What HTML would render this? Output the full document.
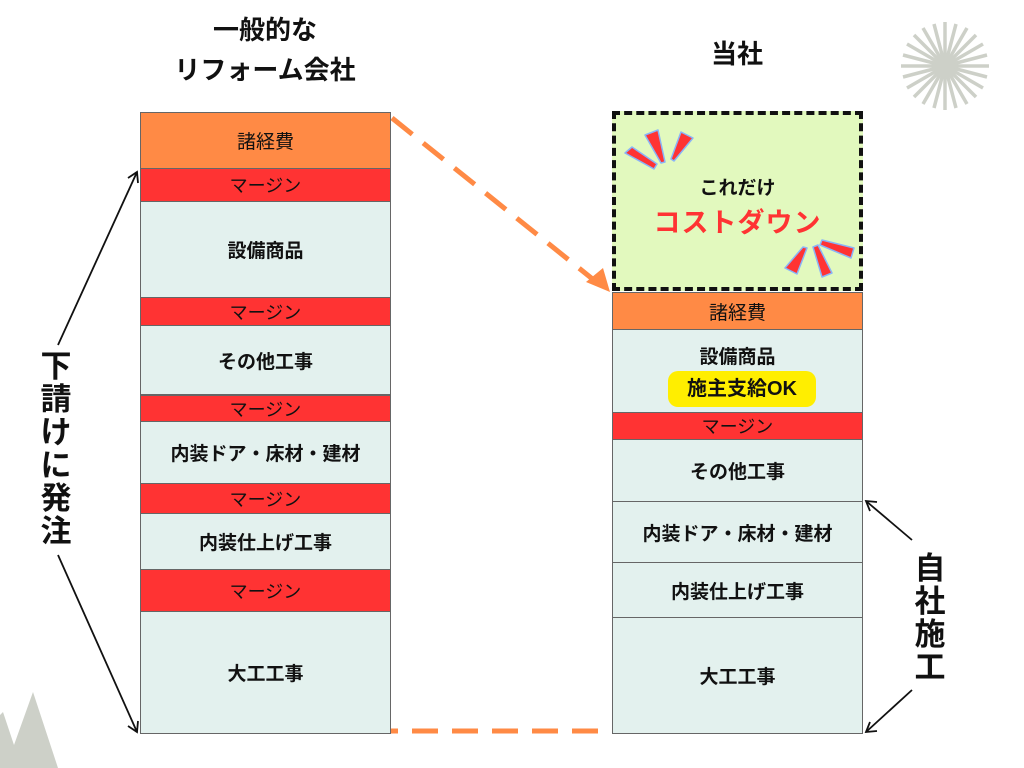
<!DOCTYPE html>
<html><head><meta charset="utf-8"><style>
body{margin:0;width:1024px;height:768px;background:#fff;position:relative;overflow:hidden;font-family:"Liberation Sans","Noto Sans CJK JP",sans-serif;}
.b{position:absolute;box-sizing:border-box;border:1.5px solid #666;display:flex;align-items:center;justify-content:center;color:#111;font-size:19px;}
.o{background:#FF8A45;}
.r{background:#FF3333;font-size:18px;}
.g{background:#E3F1EE;font-weight:bold;}
.t{position:absolute;font-weight:bold;color:#111;text-align:center;}
</style></head><body>
<svg width="1024" height="768" style="position:absolute;left:0;top:0">
<g transform="translate(945,66)" stroke="#CDD0C8" stroke-width="3.5">
<line x1="0" y1="-44" x2="0" y2="44"/><line x1="-44" y1="0" x2="44" y2="0"/>
<line x1="-11" y1="-42" x2="11" y2="42"/><line x1="11" y1="-42" x2="-11" y2="42"/>
<line x1="-22" y1="-38" x2="22" y2="38"/><line x1="22" y1="-38" x2="-22" y2="38"/>
<line x1="-31" y1="-31" x2="31" y2="31"/><line x1="31" y1="-31" x2="-31" y2="31"/>
<line x1="-38" y1="-22" x2="38" y2="22"/><line x1="38" y1="-22" x2="-38" y2="22"/>
<line x1="-42" y1="-11" x2="42" y2="11"/><line x1="42" y1="-11" x2="-42" y2="11"/>
</g>
<circle cx="945" cy="66" r="10" fill="#CDD0C8"/>
<polygon points="0,768 0,715 3,712 14,745 33,692 58,768" fill="#CDD0C8"/>
<line x1="392" y1="118" x2="600" y2="285" stroke="#FF8A45" stroke-width="5" stroke-dasharray="26,14"/>
<polygon points="586,282 610,292 603,268" fill="#FF8A45"/>
<line x1="372" y1="731" x2="610" y2="731" stroke="#FF8A45" stroke-width="5" stroke-dasharray="26,14"/>
<g stroke="#111" stroke-width="1.8" fill="none">
<line x1="58" y1="345" x2="137" y2="172"/><polyline points="128,178 137,172 138,183"/>
<line x1="58" y1="555" x2="137" y2="732"/><polyline points="128,726 137,732 138,721"/>
<line x1="912" y1="540" x2="866" y2="501"/><polyline points="870,511 866,501 877,502"/>
<line x1="912" y1="690" x2="866" y2="732"/><polyline points="870,722 866,732 877,731"/>
</g>
</svg>
<div class="t" style="left:140px;top:10px;width:250px;font-size:26px;line-height:40px">一般的な<br>リフォーム会社</div>
<div class="t" style="left:612px;top:34px;width:250px;font-size:26px">当社</div>
<div class="t" style="left:36px;top:350px;width:40px;font-size:31px;line-height:33px">下<br>請<br>け<br>に<br>発<br>注</div>
<div class="t" style="left:908px;top:552px;width:44px;font-size:31px;line-height:33px">自<br>社<br>施<br>工</div>

<div class="b o" style="left:140px;top:112px;width:251px;height:57px">諸経費</div>
<div class="b r" style="left:140px;top:168px;width:251px;height:34px">マージン</div>
<div class="b g" style="left:140px;top:201px;width:251px;height:97px">設備商品</div>
<div class="b r" style="left:140px;top:297px;width:251px;height:29px">マージン</div>
<div class="b g" style="left:140px;top:325px;width:251px;height:70px">その他工事</div>
<div class="b r" style="left:140px;top:395px;width:251px;height:27px">マージン</div>
<div class="b g" style="left:140px;top:421px;width:251px;height:63px">内装ドア・床材・建材</div>
<div class="b r" style="left:140px;top:483px;width:251px;height:31px">マージン</div>
<div class="b g" style="left:140px;top:513px;width:251px;height:57px">内装仕上げ工事</div>
<div class="b r" style="left:140px;top:569px;width:251px;height:43px">マージン</div>
<div class="b g" style="left:140px;top:611px;width:251px;height:123px">大工工事</div>

<div style="position:absolute;left:612px;top:111px;width:251px;height:180px;box-sizing:border-box;border:4px dashed #111;background:#E2F9BE"></div>
<svg width="1024" height="768" style="position:absolute;left:0;top:0">
<g fill="#FF3333" stroke="#8AB4F8" stroke-width="1.5" stroke-linejoin="round">
<polygon points="625,153 632,147 657,164 654,169"/>
<polygon points="645,135 658,130 665,162 661,163"/>
<polygon points="681,132 693,138 674,161 671,159"/>
<polygon points="822,240 854,248 851,258 820,245"/>
<polygon points="813,247 818,245 832,273 822,277"/>
<polygon points="803,247 807,248 797,274 785,268"/>
</g>
</svg>
<div class="t" style="left:612px;top:173px;width:251px;font-size:19px">これだけ</div>
<div class="t" style="left:612px;top:201px;width:251px;font-size:27px;color:#FF3333;letter-spacing:1px">コストダウン</div>

<div class="b o" style="left:612px;top:292px;width:251px;height:38px">諸経費</div>
<div class="b g" style="left:612px;top:329px;width:251px;height:84px;align-items:flex-start;padding-top:12px">設備商品</div>
<div class="t" style="left:668px;top:371px;width:148px;height:36px;background:#FFEE00;border-radius:10px;font-size:20px;line-height:36px">施主支給OK</div>
<div class="b r" style="left:612px;top:412px;width:251px;height:28px">マージン</div>
<div class="b g" style="left:612px;top:439px;width:251px;height:63px">その他工事</div>
<div class="b g" style="left:612px;top:501px;width:251px;height:62px">内装ドア・床材・建材</div>
<div class="b g" style="left:612px;top:562px;width:251px;height:56px">内装仕上げ工事</div>
<div class="b g" style="left:612px;top:617px;width:251px;height:117px">大工工事</div>
</body></html>
